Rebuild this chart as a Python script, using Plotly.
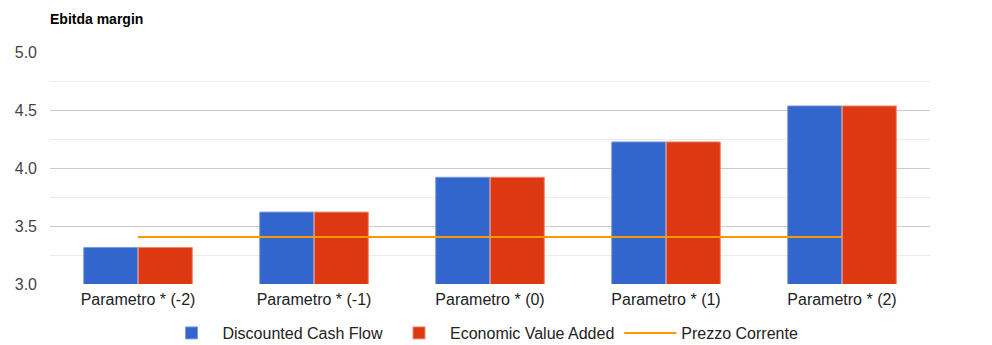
import plotly.graph_objects as go

categories = ["Parametro * (-2)", "Parametro * (-1)", "Parametro * (0)", "Parametro * (1)", "Parametro * (2)"]
dcf_values = [3.315, 3.62, 3.92, 4.225, 4.535]
eva_values = [3.315, 3.62, 3.92, 4.225, 4.535]
prezzo_values = [3.405, 3.405, 3.405, 3.405, 3.405]
y_ticks = [3.0, 3.5, 4.0, 4.5, 5.0]

FONT = "Arial, Liberation Sans, sans-serif"

fig = go.Figure()
fig.add_trace(go.Bar(
    x=categories, y=dcf_values, name="Discounted Cash Flow",
    marker=dict(color="#3366cc", line=dict(color="#7d9be0", width=1)),
))
fig.add_trace(go.Bar(
    x=categories, y=eva_values, name="Economic Value Added",
    marker=dict(color="#dc3912", line=dict(color="#eb8a74", width=1)),
))
fig.add_trace(go.Scatter(
    x=categories, y=prezzo_values, name="Prezzo Corrente", mode="lines",
    line=dict(color="#ff9900", width=2),
))

fig.update_layout(
    width=992, height=345,
    margin=dict(l=50, r=62, t=52, b=61, autoexpand=False),
    paper_bgcolor="white", plot_bgcolor="white",
    barmode="group", bargap=0.38, bargroupgap=0.01,
    font=dict(family=FONT, size=16, color="#222222"),
    title=dict(text="<b>Ebitda margin</b>", x=50/992, xanchor="left",
               y=1-19/345, yanchor="middle",
               font=dict(family=FONT, size=14, color="#000000")),
    showlegend=True,
    legend=dict(orientation="h", x=0.5 - 8/880, xanchor="center",
                yref="container", y=1-333/345, yanchor="middle",
                font=dict(family=FONT, size=16, color="#222222"),
                traceorder="normal", itemwidth=52),
    xaxis=dict(type="category", showgrid=False, zeroline=False, showline=False,
               ticks="", automargin=False, ticklabelstandoff=4,
               tickfont=dict(family=FONT, size=16, color="#222222")),
    yaxis=dict(range=[3.0, 5.0], tickvals=y_ticks, tickformat=".1f",
               showgrid=True, gridcolor="#cccccc", gridwidth=1,
               zeroline=False, showline=False, ticks="", automargin=False,
               ticklabelstandoff=12,
               tickfont=dict(family=FONT, size=16, color="#444444"),
               minor=dict(dtick=0.25, showgrid=True, gridcolor="#ebebeb", gridwidth=1)),
)

fig.write_html("out.html")
